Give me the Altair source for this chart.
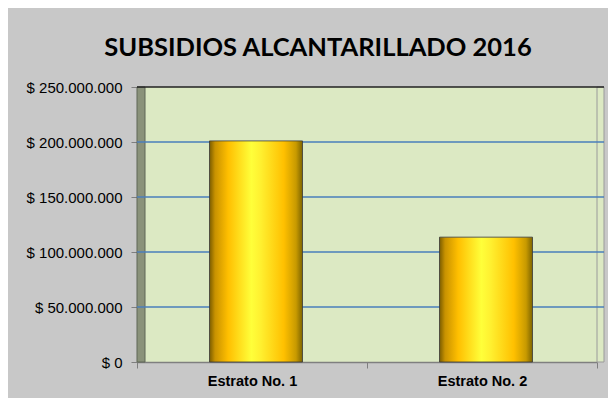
import altair as alt
import pandas as pd

categories = ["Estrato No. 1", "Estrato No. 2"]
values = [201000000, 113500000]
y_ticks = [0, 50000000, 100000000, 150000000, 200000000, 250000000]
title_text = "SUBSIDIOS ALCANTARILLADO 2016"

df = pd.DataFrame({"estrato": categories, "valor": values})
grid_df = pd.DataFrame({"v": y_ticks})
one = pd.DataFrame({"k": [0]})

W, H = 460, 275
FONT = "Liberation Sans, Arial, sans-serif"
TFONT = "Lato, Liberation Sans, sans-serif"

gold = alt.LinearGradient(
    gradient="linear", x1=0, x2=1, y1=0, y2=0,
    stops=[
        alt.GradientStop(offset=0.0, color="#7a5c00"),
        alt.GradientStop(offset=0.06, color="#c89200"),
        alt.GradientStop(offset=0.2, color="#ffbf00"),
        alt.GradientStop(offset=0.45, color="#ffff3a"),
        alt.GradientStop(offset=0.55, color="#fff030"),
        alt.GradientStop(offset=0.8, color="#ffc000"),
        alt.GradientStop(offset=0.93, color="#c89a00"),
        alt.GradientStop(offset=1.0, color="#7d6400"),
    ],
)

yscale = alt.Scale(domain=[0, 250000000], nice=False)
xscale = alt.Scale(paddingInner=0, paddingOuter=0)

wall = alt.Chart(one).mark_rect(color="#8a927a", stroke="#5f6656", strokeWidth=1).encode(
    x=alt.value(0), x2=alt.value(8), y=alt.value(0), y2=alt.value(H)
)
ext = alt.Chart(one).mark_rect(color="#dce9c3", stroke="#9a9a9a", strokeWidth=1).encode(
    x=alt.value(W), x2=alt.value(W + 7), y=alt.value(0), y2=alt.value(H)
)

yaxis = alt.Axis(values=y_ticks, grid=False, domain=False, tickSize=6,
                 tickColor="#7f7f7f", labelPadding=9, labelFontSize=15,
                 labelExpr="'$ ' + replace(format(datum.value, ',.0f'), regexp(',', 'g'), '.')",
                 title=None)

grid = alt.Chart(grid_df).transform_filter(
    "datum.v > 0 && datum.v < 250000000"
).mark_rule(strokeWidth=1.5, color="#4a7ebb").encode(
    y=alt.Y("v:Q", scale=yscale, axis=yaxis),
    x=alt.value(0), x2=alt.value(W + 7),
)
topline = alt.Chart(grid_df).transform_filter(
    "datum.v == 250000000"
).mark_rule(strokeWidth=1.5, color="#222222").encode(
    y=alt.Y("v:Q", scale=yscale),
    x=alt.value(0), x2=alt.value(W + 7),
)

bars = alt.Chart(df).mark_bar(color=gold, width=93, xOffset=4, stroke="#3a3a3a",
                               strokeWidth=1, strokeOpacity=0.8).encode(
    x=alt.X("estrato:N", scale=xscale, sort=categories,
            axis=alt.Axis(title=None, labelAngle=0, tickBand="extent", tickSize=6,
                          tickColor="#7f7f7f", domainColor="#7f7f7f", domainWidth=1.5,
                          labelPadding=6, labelFontWeight="bold", labelFontSize=14.5,
                          labelFont=FONT, labelColor="#000000")),
    y=alt.Y("valor:Q", scale=yscale),
)

chart = alt.layer(wall, ext, grid, topline, bars).properties(
    width=W, height=H,
    background="#c8c8c8",
    padding={"left": 129, "top": 79, "right": 11, "bottom": 36},
    autosize=alt.AutoSizeParams(type="none"),
    title=alt.TitleParams(title_text, font=TFONT, fontSize=25.5, fontWeight="bold",
                          color="#000000", anchor="middle", dx=-49, offset=-1,
                          baseline="alphabetic"),
).configure_view(fill="#dce9c3", stroke=None).configure_axis(
    labelFont=FONT, labelFontSize=15, labelColor="#000000"
).resolve_axis(y="shared")

chart.save("out.html", embed_options={"renderer": "svg", "actions": False})
